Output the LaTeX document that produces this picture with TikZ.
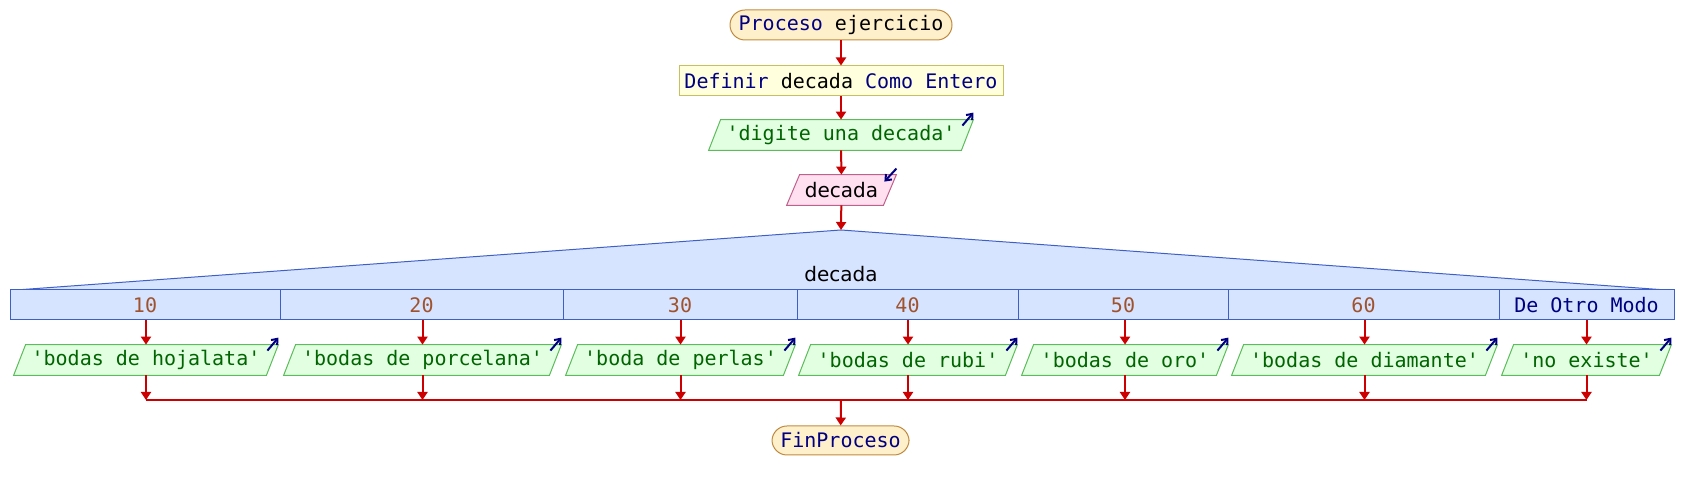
\documentclass[tikz,border=0pt]{standalone}
\usepackage{fontspec}
\newfontfamily\monof{DejaVu Sans Mono}
\newfontfamily\sansf{DejaVu Sans}
\usetikzlibrary{arrows.meta,backgrounds}
\definecolor{kw}{HTML}{000080}
\definecolor{strg}{HTML}{006400}
\definecolor{numc}{HTML}{A0522D}
\definecolor{arrowred}{HTML}{CC0000}
\definecolor{termfill}{HTML}{FFF0CC}
\definecolor{termdraw}{HTML}{C08A3E}
\definecolor{deffill}{HTML}{FFFFDD}
\definecolor{defdraw}{HTML}{C8C060}
\definecolor{outfill}{HTML}{E2FFE2}
\definecolor{outdraw}{HTML}{5CBC5C}
\definecolor{infill}{HTML}{FFE0F0}
\definecolor{indraw}{HTML}{C0608C}
\definecolor{swfill}{HTML}{D6E4FF}
\definecolor{swdraw}{HTML}{3F5FC8}
\newcommand\outpara[1]{%
  \filldraw[fill=outfill,draw=outdraw,line width=0.5pt]
    ([xshift=6pt]#1.north west) -- (#1.north east) -- ([xshift=-6pt]#1.south east) -- (#1.south west) -- cycle;
  \draw[kw,line width=1pt,-{Straight Barb[length=2.5pt,width=4pt]}] ([xshift=-5.5pt,yshift=-3pt]#1.north east) -- ([yshift=3.5pt]#1.north east);}
\begin{document}
\begin{tikzpicture}[x=0.5pt,y=-0.5pt,
  txt/.style={font=\monof\fontsize{10}{12}\selectfont, inner sep=0pt, minimum height=15pt, anchor=center},
  term/.style={txt, draw=termdraw, fill=termfill, rounded corners=7.5pt, line width=0.5pt},
  defbox/.style={txt, draw=defdraw, fill=deffill, line width=0.5pt},
  outbox/.style={txt, text=strg},
  casebox/.style={txt, draw=swdraw, fill=swfill, line width=0.5pt, text=numc},
  flow/.style={draw=arrowred, line width=1pt, -{Triangle[width=5pt,length=4pt]}},
  joinline/.style={draw=arrowred, line width=1pt}]
\useasboundingbox (0,0) rectangle (1682,490);

\node[term, minimum width=111pt] (start) at (841,25) {\textcolor{kw}{Proceso} ejercicio};
\node[defbox, minimum width=162pt] (def) at (841,81) {\textcolor{kw}{Definir} decada \textcolor{kw}{Como Entero}};
\node[outbox, minimum width=132pt] (out0) at (841,135) {'digite una decada'};
\node[txt, font=\sansf\fontsize{10}{12}\selectfont, minimum width=54.5pt] (in1) at (841.5,190) {decada};
\coordinate (swtop) at (841,230);

% switch header
\filldraw[fill=swfill, draw=swdraw, line width=0.5pt] (16,290) -- (swtop) -- (1666,290) -- cycle;
\node[txt, font=\sansf\fontsize{10}{12}\selectfont] (sw) at (841,274) {decada};

\node[casebox, minimum width=135pt] (c1) at (145,305) {10};
\node[casebox, minimum width=141.5pt] (c2) at (421.5,305) {20};
\node[casebox, minimum width=117pt] (c3) at (680,305) {30};
\node[casebox, minimum width=110.5pt] (c4) at (907.5,305) {40};
\node[casebox, minimum width=105pt] (c5) at (1123,305) {50};
\node[casebox, minimum width=135.5pt] (c6) at (1363.5,305) {60};
\node[casebox, minimum width=87.5pt, text=kw] (c7) at (1586.5,305) {De Otro Modo};

\node[outbox, minimum width=132pt] (o1) at (146,360) {'bodas de hojalata'};
\node[outbox, minimum width=138.5pt] (o2) at (422.5,360) {'bodas de porcelana'};
\node[outbox, minimum width=114.5pt] (o3) at (680.5,360) {'boda de perlas'};
\node[outbox, minimum width=109pt] (o4) at (908,360) {'bodas de rubi'};
\node[outbox, minimum width=103pt] (o5) at (1125,360) {'bodas de oro'};
\node[outbox, minimum width=132.5pt] (o6) at (1364.5,360) {'bodas de diamante'};
\node[outbox, minimum width=84.5pt] (o7) at (1586.5,360) {'no existe'};

\coordinate (mline) at (841,400);
\node[term, minimum width=68.5pt, minimum height=14.5pt] (end) at (840.5,440.5) {\textcolor{kw}{FinProceso}};

\begin{scope}[on background layer]
  \outpara{out0}
  \outpara{o1}\outpara{o2}\outpara{o3}\outpara{o4}\outpara{o5}\outpara{o6}\outpara{o7}
  \filldraw[fill=infill,draw=indraw,line width=0.5pt]
    ([xshift=6.5pt]in1.north west) -- (in1.north east) -- ([xshift=-6.5pt]in1.south east) -- (in1.south west) -- cycle;
  \draw[kw,line width=1pt,-{Straight Barb[length=2.5pt,width=4pt]}] ([yshift=3pt]in1.north east) -- ([xshift=-6pt,yshift=-3.5pt]in1.north east);
\end{scope}

\draw[flow] (start) -- (def);
\draw[flow] (def) -- (out0);
\draw[flow] (out0) -- (in1);
\draw[flow] (in1) -- (swtop);
\foreach \i in {1,...,7} {
  \draw[flow] (o\i.north |- c\i.south) -- (o\i.north);
  \draw[flow] (o\i.south) -- (o\i.south |- mline);
}
\draw[joinline] (o1.south |- mline) -- (o7.south |- mline);
\draw[flow] (mline) -- (end);
\end{tikzpicture}
\end{document}
